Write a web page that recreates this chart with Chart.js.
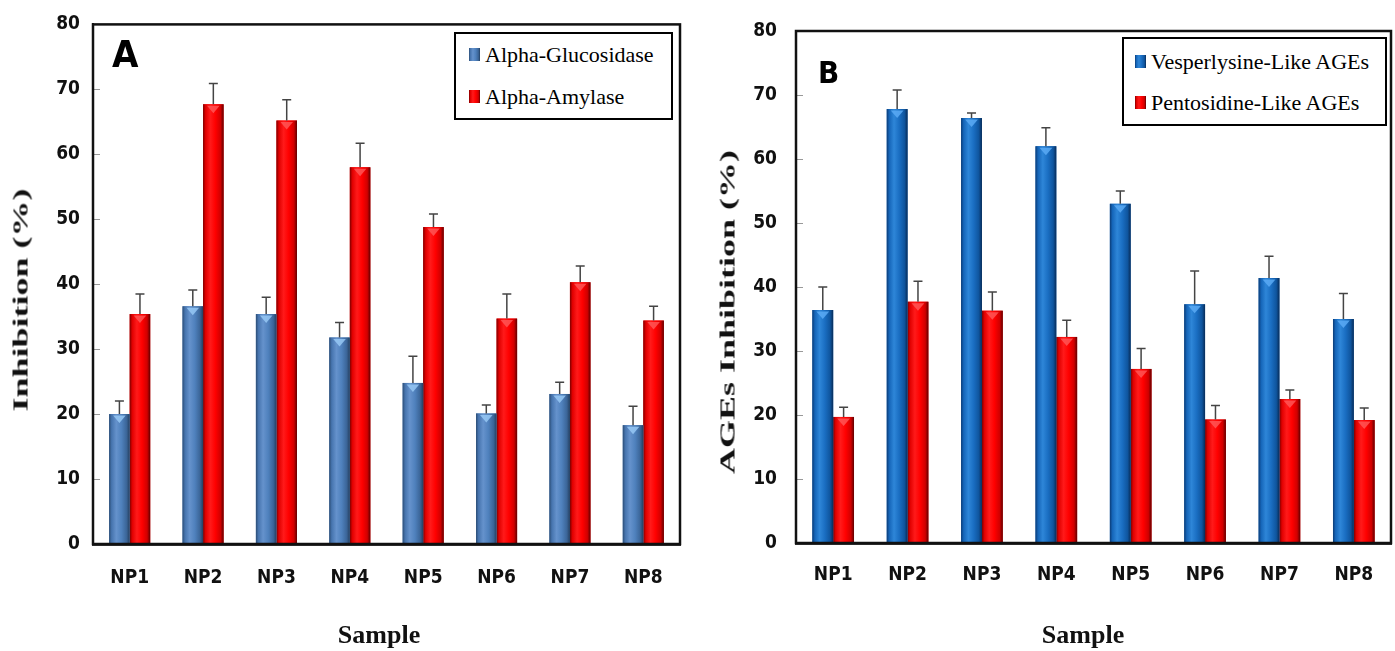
<!DOCTYPE html>
<html>
<head>
<meta charset="utf-8">
<script src="https://cdn.jsdelivr.net/npm/chart.js@4.4.1/dist/chart.umd.min.js"></script>
<style>
  body { margin: 0; background: #fff; width: 1395px; height: 651px; overflow: hidden; position: relative; }
  canvas { position: absolute; top: 0; }
  .legend { position: absolute; border: 2px solid #000; background: #fff; box-sizing: border-box;
            font-family: "Liberation Serif", "Times New Roman", serif; font-size: 22px; color: #000; }
  .legend .row { position: absolute; white-space: nowrap; line-height: 24px; }
  .legend .sw { position: absolute; width: 11px; height: 13px; }
  .ytitle, .xtitle { position: absolute; white-space: nowrap; font-family: "Liberation Serif", "Times New Roman", serif;
                     font-weight: bold; color: #111; }
  .ytitle { font-size: 20px; transform: translate(-50%, -50%) rotate(-90deg) scaleX(1.8); }
  .xtitle { font-size: 26px; transform: translate(-50%, -50%); }
</style>
</head>
<body>
<canvas id="chartA" width="697" height="651" style="left:0"></canvas>
<canvas id="chartB" width="695" height="651" style="left:700px"></canvas>

<div class="ytitle" style="left:21px; top:300px">Inhibition (%)</div>
<div class="ytitle" style="left:728px; top:312px">AGEs Inhibition (%)</div>
<div class="xtitle" style="left:379px; top:635px">Sample</div>
<div class="xtitle" style="left:1083px; top:635px">Sample</div>

<div class="legend" id="legA" style="left:454px; top:32px; width:219px; height:88px"></div>
<div class="legend" id="legB" style="left:1122px; top:37px; width:265px; height:89px"></div>

<script>
// data
const samples = ['NP1', 'NP2', 'NP3', 'NP4', 'NP5', 'NP6', 'NP7', 'NP8'];

// panel A: enzyme inhibition
const glucosidase    = [20.0, 36.6, 35.4, 31.8, 24.8, 20.1, 23.1, 18.3];
const glucosidaseErr = [2.0, 2.5, 2.6, 2.3, 4.1, 1.3, 1.8, 2.9];
const amylase        = [35.4, 67.7, 65.2, 58.0, 48.8, 34.7, 40.3, 34.4];
const amylaseErr     = [3.1, 3.2, 3.2, 3.7, 2.0, 3.8, 2.5, 2.2];

// panel B: AGEs inhibition
const vesperlysine    = [36.4, 67.8, 66.4, 62.0, 53.0, 37.3, 41.4, 35.0];
const vesperlysineErr = [3.6, 3.0, 0.8, 2.9, 2.0, 5.2, 3.4, 4.0];
const pentosidine     = [19.7, 37.7, 36.3, 32.2, 27.2, 19.3, 22.5, 19.2];
const pentosidineErr  = [1.5, 3.2, 2.9, 2.6, 3.2, 2.2, 1.4, 1.9];

const yTicks = { min: 0, max: 80, step: 10 };

const tickFont = '"DejaVu Sans Condensed", "Liberation Sans Narrow", sans-serif';

// cylinder-ish shading for the bars
const shadeBlueA = [[0, '#2C4D75'], [0.12, '#4674AE'], [0.35, '#6592CC'], [0.6, '#4F81BD'], [0.85, '#3B6598'], [1, '#243F60']];
const shadeBlueB = [[0, '#0B3B75'], [0.12, '#1565B8'], [0.35, '#2E86D8'], [0.6, '#1A6EC2'], [0.85, '#0F559E'], [1, '#082C58']];
const shadeRed   = [[0, '#7A0000'], [0.12, '#E00000'], [0.35, '#FF1A1A'], [0.6, '#FF0000'], [0.85, '#D00000'], [1, '#600000']];

const barLook = {
  id: 'barLook',
  afterDatasetDraw(chart, args) {
    const ctx = chart.ctx;
    const ds = chart.data.datasets[args.index];
    ctx.save();
    args.meta.data.forEach(el => {
      const p = el.getProps(['x', 'y', 'base', 'width'], true);
      const l = p.x - p.width / 2, r = p.x + p.width / 2;
      const g = ctx.createLinearGradient(l, 0, r, 0);
      ds.shade.forEach(s => g.addColorStop(s[0], s[1]));
      ctx.fillStyle = g;
      ctx.fillRect(l, p.y, p.width, p.base - p.y);
      // little highlight wedge at the top
      ctx.fillStyle = ds.tip;
      ctx.beginPath();
      ctx.moveTo(l + 4, p.y + 1.5);
      ctx.lineTo(r - 4, p.y + 1.5);
      ctx.lineTo(p.x, p.y + 9);
      ctx.closePath();
      ctx.fill();
    });
    ctx.restore();
  },
  afterDatasetsDraw(chart) {
    const ctx = chart.ctx;
    const ys = chart.scales.y;
    ctx.save();
    ctx.strokeStyle = '#444';
    ctx.lineWidth = 1.5;
    chart.data.datasets.forEach((ds, i) => {
      chart.getDatasetMeta(i).data.forEach((el, j) => {
        const top = ys.getPixelForValue(ds.data[j] + ds.errors[j]);
        ctx.beginPath();
        ctx.moveTo(el.x, el.y);
        ctx.lineTo(el.x, top);
        ctx.moveTo(el.x - 4.5, top);
        ctx.lineTo(el.x + 4.5, top);
        ctx.stroke();
      });
    });
    ctx.restore();
  },
  afterDraw(chart, args, opts) {
    const ctx = chart.ctx;
    const a = chart.chartArea;
    const ys = chart.scales.y;
    ctx.save();
    // inner tick marks
    ctx.strokeStyle = '#999';
    ctx.lineWidth = 1;
    for (let v = yTicks.min + yTicks.step; v < yTicks.max; v += yTicks.step) {
      const py = Math.round(ys.getPixelForValue(v)) + 0.5;
      ctx.beginPath();
      ctx.moveTo(a.left, py);
      ctx.lineTo(a.left + 7, py);
      ctx.stroke();
    }
    // plot frame
    ctx.strokeStyle = '#111';
    ctx.lineWidth = 2.5;
    ctx.strokeRect(a.left, a.top, a.right - a.left, a.bottom - a.top);
    // panel letter
    ctx.fillStyle = '#000';
    ctx.font = 'bold ' + opts.size + 'px ' + tickFont;
    ctx.fillText(opts.letter, opts.x, opts.y);
    ctx.restore();
  }
};

function makeChart(id, sets, box) {
  return new Chart(document.getElementById(id), {
    type: 'bar',
    data: { labels: samples, datasets: sets },
    plugins: [barLook],
    options: {
      responsive: false,
      animation: false,
      layout: { padding: { left: 0, right: box.right, top: box.top, bottom: 0 } },
      datasets: { bar: { categoryPercentage: 0.56, barPercentage: 1 } },
      plugins: {
        legend: { display: false },
        tooltip: { enabled: false },
        barLook: box.letter
      },
      scales: {
        x: {
          grid: { display: false, drawTicks: false },
          border: { display: true, color: '#333', width: 3 },
          ticks: { color: '#111', padding: box.xPad, font: { family: tickFont, size: 19, weight: 'bold' } },
          afterFit: s => { s.height = box.xHeight; }
        },
        y: {
          min: yTicks.min,
          max: yTicks.max,
          grid: { drawOnChartArea: false, drawTicks: false },
          border: { display: true, color: '#111', width: 2 },
          ticks: { stepSize: yTicks.step, color: '#111', padding: box.yPad, font: { family: tickFont, size: 19, weight: 'bold' } },
          afterFit: s => { s.width = box.yWidth; }
        }
      }
    }
  });
}

const chartA = makeChart('chartA', [
  { label: 'Alpha-Glucosidase', data: glucosidase, errors: glucosidaseErr, backgroundColor: '#4F81BD', shade: shadeBlueA, tip: 'rgba(150,200,245,0.85)' },
  { label: 'Alpha-Amylase', data: amylase, errors: amylaseErr, backgroundColor: '#FF0000', shade: shadeRed, tip: 'rgba(255,90,90,0.8)' }
], { right: 17, top: 24, xHeight: 107, yWidth: 93, yPad: 13, xPad: 23,
     letter: { letter: 'A', size: 38, x: 112, y: 67 } });

const chartB = makeChart('chartB', [
  { label: 'Vesperlysine-Like AGEs', data: vesperlysine, errors: vesperlysineErr, backgroundColor: '#1A6EC2', shade: shadeBlueB, tip: 'rgba(90,170,245,0.85)' },
  { label: 'Pentosidine-Like AGEs', data: pentosidine, errors: pentosidineErr, backgroundColor: '#FF0000', shade: shadeRed, tip: 'rgba(255,90,90,0.8)' }
], { right: 4, top: 31, xHeight: 108, yWidth: 96, yPad: 19, xPad: 21,
     letter: { letter: 'B', size: 31, x: 118, y: 83 } });

// legends built from the datasets
function buildLegend(el, chart, rows, swLeft, textLeft) {
  chart.data.datasets.forEach((ds, i) => {
    const sw = document.createElement('div');
    sw.className = 'sw';
    sw.style.left = swLeft + 'px';
    sw.style.top = (rows[i] - 7) + 'px';
    sw.style.background = 'linear-gradient(90deg,' + ds.shade.map(s => s[1] + ' ' + (s[0] * 100) + '%').join(',') + ')';
    el.appendChild(sw);
    const t = document.createElement('div');
    t.className = 'row';
    t.style.left = textLeft + 'px';
    t.style.top = (rows[i] - 12) + 'px';
    t.textContent = ds.label;
    el.appendChild(t);
  });
}
buildLegend(document.getElementById('legA'), chartA, [21, 63], 13, 29);
buildLegend(document.getElementById('legB'), chartB, [23, 64], 11, 27);
</script>
</body>
</html>
